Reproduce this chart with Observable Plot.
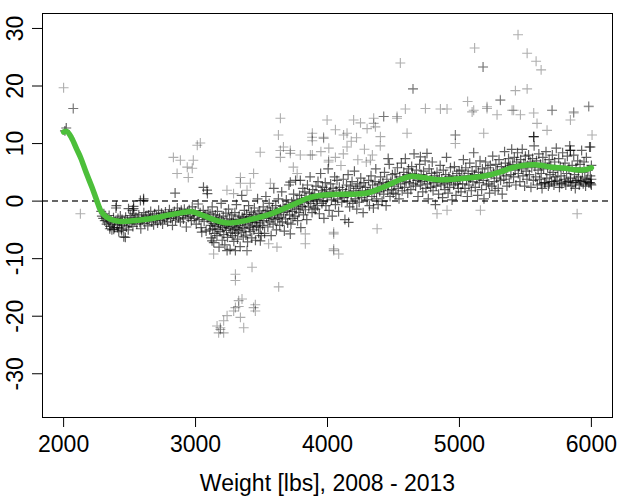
<!DOCTYPE html>
<html>
<head>
<meta charset="utf-8">
<script src="https://cdn.jsdelivr.net/npm/d3@7"></script>
<script src="https://cdn.jsdelivr.net/npm/@observablehq/plot@0.6"></script>
<style>
  html, body { margin: 0; padding: 0; background: #fff; }
</style>
</head>
<body>
<div id="chart"></div>
<script>
const xTicks = [2000, 3000, 4000, 5000, 6000];
const yTicks = [-30, -20, -10, 0, 10, 20, 30];
const xLabel = "Weight [lbs], 2008 - 2013";

// smoothed trend (weight, difference)
const smooth = [
  [2000,12.0],[2025,12.1],[2060,11.0],[2100,9.0],[2130,7.5],[2170,5.0],[2215,2.4],[2250,0.2],
  [2280,-1.6],[2320,-2.7],[2360,-3.2],[2420,-3.5],[2480,-3.5],[2580,-3.3],[2700,-2.9],[2800,-2.4],
  [2900,-2.0],[2960,-1.8],[3000,-2.0],[3080,-2.7],[3160,-3.4],[3240,-3.8],[3300,-3.7],[3380,-3.4],
  [3470,-2.9],[3560,-2.3],[3660,-1.4],[3750,-0.5],[3850,0.5],[3920,0.9],[4000,1.1],[4100,1.2],
  [4200,1.2],[4300,1.4],[4400,2.2],[4480,3.0],[4560,3.8],[4640,4.3],[4720,4.1],[4850,3.7],
  [4950,3.8],[5100,4.1],[5200,4.4],[5300,5.0],[5400,5.8],[5480,6.2],[5580,6.3],[5700,5.9],
  [5800,5.7],[5900,5.4],[5960,5.5],[6000,5.8]
];

// scattered points (weight, difference), by weight range
const light = [
  [2000,19.7],[2073,16.1],[2073,16.1],[2020,12.7],[2010,12.2],[2127,-2.2],
  [2285,-1.8],[2290,-2.6],[2300,-3.0],[2305,-2.2],[2312,-3.4],[2320,-2.8],[2326,-4.0],[2333,-3.1],
  [2340,-3.6],[2345,-2.5],[2352,-4.4],[2360,-3.3],[2366,-5.0],[2372,-3.8],[2378,-2.9],[2385,-4.6],
  [2390,-3.5],[2397,-1.2],[2400,-0.8],[2405,-4.1],[2412,-3.0],[2418,-5.3],[2424,-3.7],[2430,-2.6],
  [2437,-4.8],[2443,-3.2],[2450,-4.2],[2456,-6.2],[2462,-3.6],[2470,-2.8],[2476,-4.5],[2483,-3.3],
  [2490,-5.0],[2497,-3.9],[2582,0.1],[2530,-0.9],[2606,0.4],[2492,-1.3],[2522,-1.6],[2468,-6.3],
  [2380,-4.9],[2410,-4.6],[2440,-5.1],[2350,-4.8]
];
const lowMid = [
  [2505,-2.5],[2512,-3.8],[2518,-3.0],[2525,-4.4],[2532,-2.2],[2540,-3.4],[2548,-2.8],[2555,-4.0],
  [2562,-3.1],[2570,-2.4],[2578,-3.7],[2585,-4.8],[2592,-2.9],[2600,-3.3],[2608,-2.0],[2615,-3.9],
  [2622,-2.6],[2630,-3.2],[2638,-4.3],[2645,-2.4],[2652,-3.0],[2660,-1.8],[2668,-3.6],[2675,-2.7],
  [2682,-4.1],[2690,-2.2],[2698,-3.2],[2705,-2.6],[2712,-3.8],[2720,-1.6],[2728,-2.9],[2735,-3.4],
  [2742,-2.1],[2750,-4.0],[2758,-2.5],[2765,-3.1],[2772,-1.9],[2780,-2.8],[2788,-3.6],[2795,-2.3],
  [2802,-1.5],[2810,-3.0],[2818,-2.2],[2825,-4.2],[2832,-2.6],[2840,-1.8],[2848,-3.3],[2855,-2.4],
  [2862,-1.2],[2870,-2.9],[2878,-2.0],[2885,-3.6],[2892,-1.6],[2900,-2.5],[2908,-3.1],[2915,-1.4],
  [2922,-2.2],[2930,-4.5],[2938,-1.9],[2945,-2.8],
  [2952,-1.5],[2960,-2.6],[2968,-3.4],[2975,-1.0],[2982,-2.2],[2990,-3.0],[2998,-1.7],[3005,-4.0],
  [3012,-2.5],[3020,-0.5],[3027,-3.2],[3035,-2.0],[3042,-4.6],[3050,-2.8],[3058,-1.6],[3065,-3.5],
  [3072,-2.4],[3080,-5.2],[3088,-3.0],[3095,-1.9],
  [2832,7.6],[2885,7.1],[2937,5.9],[2975,5.7],[2945,4.1],[2983,7.1],[3013,9.7],[3036,10.1],
  [2860,4.8],[2845,1.4],[3060,2.4],[3090,1.3],[2606,0.1],[2530,-1.3]
];
const dip = [
  [3102,-3.1],[3106,-5.0],[3110,-2.2],[3114,-4.2],[3118,-6.4],[3122,-3.5],[3126,-1.0],[3130,-4.8],
  [3134,-2.8],[3138,-7.2],[3142,-3.9],[3146,-5.6],[3150,-2.4],[3154,-4.4],[3158,-3.2],[3162,-6.0],
  [3166,-1.8],[3170,-4.9],[3174,-3.6],[3178,-8.0],[3182,-2.9],[3186,-5.3],[3190,-4.1],[3194,-0.4],
  [3198,-3.4],[3202,-6.8],[3206,-4.6],[3210,-2.6],[3214,-5.8],[3218,-3.8],[3222,-7.6],[3226,-4.3],
  [3230,-2.1],[3234,-5.1],[3238,-3.6],[3242,-6.3],[3246,-4.0],[3250,-1.4],[3254,-4.7],[3258,-3.1],
  [3262,-8.4],[3266,-5.5],[3270,-3.9],[3274,-2.4],[3278,-6.0],[3282,-4.4],[3286,-3.3],[3290,-7.0],
  [3294,-4.9],[3298,-2.0],[3302,-5.6],[3306,-3.7],[3310,-0.6],[3314,-4.6],[3318,-6.6],[3322,-3.2],
  [3326,-5.1],[3330,-2.6],[3334,-4.2],[3338,-7.9],[3342,-3.5],[3346,-5.4],[3350,1.0],[3354,-2.8],
  [3358,-4.5],[3362,-6.2],[3366,-3.0],[3370,-1.6],[3374,-4.8],[3378,-3.4],[3382,-5.9],[3386,-2.3],
  [3390,-4.0],[3394,-7.1],[3398,-3.1],[3402,-0.8],[3406,-4.6],[3410,-2.7],[3414,-5.3],[3418,-3.6],
  [3422,-1.9],[3426,-6.4],[3430,-3.2],[3434,-4.3],[3438,-2.4],[3442,-5.0],[3446,-1.2],[3450,-3.7],
  [3454,-6.8],[3458,-2.8],[3462,-4.4],[3466,-3.3],[3470,0.4],[3474,-2.2],[3478,-5.6],[3482,-3.8],
  [3486,-1.7],[3490,-4.6],[3494,-2.9],[3498,-6.0],
  [3340,4.1],[3490,8.5],[3288,1.3],[3440,4.8],[3340,3.1],[3390,1.9],[3415,3.1],[3238,1.9],[3087,1.9],
  [3047,-5.4],[3390,-8.6],[3390,-8.6],[3302,-8.6],[3239,-8.6],[3137,-9.2],[3125,-6.9],[3491,-6.9],
  [3302,-12.7],[3302,-13.8],[3428,-11.5],[3630,-14.9],[3327,-17.3],[3302,-18.5],[3289,-19.1],
  [3440,-18.5],[3453,-19.1],[3453,-18.0],[3239,-19.9],[3213,-20.8],[3163,-21.7],[3188,-22.3],
  [3213,-22.9],[3175,-22.9],[3188,-22.0],[3365,-22.0],[3340,-20.2],[3352,-17.0],[3327,-18.3]
];
const rise = [
  [3503,-2.5],[3508,-4.2],[3513,-1.0],[3518,-3.4],[3523,-5.6],[3528,-2.1],[3533,0.8],[3538,-3.0],
  [3543,-1.6],[3548,-4.5],[3553,-2.6],[3558,-0.4],[3563,-3.6],[3568,-1.8],[3573,-6.0],[3578,-2.9],
  [3583,-1.2],[3588,-4.0],[3593,2.2],[3598,-2.2],[3603,-3.2],[3608,-0.8],[3613,-5.0],[3618,-1.9],
  [3623,-3.0],[3628,0.4],[3633,-2.4],[3638,-4.2],[3643,-1.4],[3648,-2.8],[3653,1.6],[3658,-3.6],
  [3663,-0.9],[3668,-2.0],[3673,-5.2],[3678,-1.2],[3683,-3.1],[3688,0.2],[3693,-1.7],[3698,-3.8],
  [3703,-0.6],[3708,2.8],[3713,-2.4],[3718,-1.0],[3723,-4.0],[3728,-0.2],[3733,-1.8],[3738,-3.0],
  [3743,1.2],[3748,-0.8],[3753,-2.6],[3758,3.6],[3763,-1.4],[3768,0.2],[3773,-3.4],[3778,-0.6],
  [3783,-2.0],[3788,1.0],[3793,-1.2],[3798,-4.6],[3803,0.4],[3808,-0.9],[3813,2.2],[3818,-2.4],
  [3823,-0.2],[3828,1.6],[3833,-1.5],[3838,0.6],[3843,-3.2],[3848,2.8],[3853,0.0],[3858,-1.0],
  [3863,1.4],[3868,4.2],[3873,-0.4],[3878,0.8],[3883,-2.0],[3888,2.0],[3893,0.3],[3898,-1.2],
  [3643,14.4],[3628,11.5],[3666,9.4],[3643,7.6],[3718,8.3],[3741,5.9],[3794,3.6],[3885,11.8],
  [3885,10.5],[3885,8.0],[3883,11.1],[3718,8.8],[3794,8.0],[3870,8.0],[3567,3.1],[3643,8.8],
  [3770,4.8],[3718,3.3],[3832,-5.7],[3832,-7.4],[3718,-5.7],[3617,-8.0],[3554,-7.4]
];
const plateau = [
  [3903,1.2],[3908,-1.4],[3913,2.6],[3918,0.2],[3923,-0.8],[3928,3.4],[3933,1.0],[3938,-2.2],
  [3943,0.6],[3948,4.8],[3953,1.8],[3958,-0.4],[3963,2.4],[3968,0.0],[3973,-3.0],[3978,1.4],
  [3983,3.2],[3988,-0.8],[3993,2.0],[3998,0.6],[4005,5.6],[4012,-1.6],[4018,1.6],[4024,3.0],
  [4030,0.2],[4036,-2.6],[4042,2.2],[4048,0.8],[4054,4.2],[4060,-0.6],[4066,1.8],[4072,3.6],
  [4078,0.4],[4084,-1.8],[4090,2.4],[4096,1.0],[4102,6.2],[4108,-0.2],[4114,2.0],[4120,3.8],
  [4126,0.6],[4132,-3.2],[4138,1.4],[4144,2.8],[4150,0.0],[4156,4.6],[4162,1.6],[4168,-1.0],
  [4174,2.6],[4180,0.8],[4186,3.4],[4192,-0.4],[4198,1.8],[4204,5.2],[4210,0.4],[4216,2.2],
  [4222,-1.4],[4228,3.0],[4234,1.2],[4240,-0.2],[4246,2.6],[4252,4.0],[4258,0.6],[4264,1.8],
  [4270,-2.0],[4276,3.2],[4282,1.0],[4288,2.4],[4294,6.8],[4300,0.2],[4306,1.6],[4312,3.6],
  [4318,-0.8],[4324,2.0],[4330,4.4],[4336,0.8],[4342,2.8],[4348,-1.2],[4354,1.4],[4360,3.4],
  [4366,5.6],[4372,0.4],[4378,2.2],[4384,-0.6],[4390,3.0],[4396,1.6],[4402,4.2],[4408,2.4],
  [4414,0.0],[4420,3.2],[4426,1.2],[4432,5.0],[4438,2.6],[4444,-0.8],[4450,3.8],[4456,1.8],
  [4462,2.8],[4468,6.4],[4474,0.8],[4480,3.4],[4486,2.0],[4492,4.6],[4498,1.4],
  [3950,8.6],[4010,9.2],[4060,7.6],[4120,8.2],[4180,10.4],[4230,7.2],[4280,9.0],[4340,8.0],
  [4400,9.6],[4460,7.4],[4060,12.4],[4220,11.0],[4300,12.6],[4250,13.6],
  [3997,14.1],[4198,14.1],[4350,13.5],[4363,12.9],[4401,11.2],[3971,10.9],[4148,9.4],[4009,7.1],
  [4148,11.8],[4325,7.1],[4426,14.7],[4527,14.7],[3970,11.1],[4122,11.5],[4008,6.8],
  [4350,14.4],[4426,14.7],[4527,14.4],[4552,24.0],[4648,19.5],[4648,19.5],[4590,16.0],
  [4047,-5.4],[4047,-8.6],[4085,-9.2],[4160,-3.7],[4376,-4.8],[4047,-5.7],[4047,-8.3]
];
const upper = [
  [4505,2.6],[4512,4.8],[4518,1.2],[4524,3.6],[4530,5.8],[4536,2.2],[4542,0.4],[4548,4.2],
  [4554,3.0],[4560,6.6],[4566,1.8],[4572,3.8],[4578,5.0],[4584,2.4],[4590,7.4],[4596,3.4],
  [4602,4.6],[4608,1.4],[4614,5.6],[4620,3.2],[4626,4.2],[4632,2.0],[4638,6.0],[4644,4.8],
  [4650,3.0],[4656,8.2],[4662,4.4],[4668,2.6],[4674,5.4],[4680,3.6],[4686,0.8],[4692,4.0],
  [4698,6.4],[4704,2.8],[4710,4.6],[4716,3.4],[4722,1.6],[4728,5.2],[4734,3.8],[4740,7.0],
  [4746,2.2],[4752,4.2],[4758,3.0],[4764,0.4],[4770,5.6],[4776,3.6],[4782,2.4],[4788,4.8],
  [4794,6.8],[4800,1.8],[4806,3.2],[4812,4.4],[4818,-0.6],[4824,2.6],[4830,5.0],[4836,3.4],
  [4842,1.2],[4848,4.0],[4854,6.2],[4860,2.8],[4866,3.8],[4872,0.6],[4878,5.4],[4884,3.0],
  [4890,2.0],[4896,4.6],[4902,7.6],[4908,3.2],[4914,1.4],[4920,4.2],[4926,2.4],[4932,5.8],
  [4938,3.6],[4944,0.2],[4950,4.4],[4956,2.8],[4962,6.0],[4968,3.4],[4974,1.0],[4980,4.8],
  [4986,3.0],[4992,2.2],[4998,5.2],
  [5005,3.8],[5012,1.6],[5018,5.4],[5024,3.0],[5030,7.2],[5036,4.4],[5042,2.2],[5048,5.8],
  [5054,3.6],[5060,0.8],[5066,4.8],[5072,2.8],[5078,6.6],[5084,4.0],[5090,1.8],[5096,5.2],
  [5102,3.4],[5108,8.4],[5114,4.6],[5120,2.4],[5126,6.0],[5132,3.8],[5138,1.0],[5144,5.0],
  [5150,3.2],[5156,7.0],[5162,4.4],[5168,2.0],[5174,5.6],[5180,3.6],[5186,0.4],[5192,4.8],
  [5198,6.8],[5204,2.8],[5210,4.2],[5216,5.8],[5222,3.0],[5228,1.4],[5234,6.2],[5240,4.6],
  [5246,2.6],[5252,7.8],[5258,5.0],[5264,3.4],[5270,1.8],[5276,6.4],[5282,4.0],[5288,5.4],
  [5294,2.2],[5300,7.2],[5306,4.8],[5312,3.6],[5318,6.0],[5324,1.2],[5330,5.2],[5336,3.8],
  [5342,8.6],[5348,6.6],[5354,4.4],[5360,2.6],[5366,5.8],[5372,7.4],[5378,3.2],[5384,6.2],
  [5390,4.6],[5396,9.0],
  [4603,11.8],[4704,7.7],[4754,8.3],[4969,11.5],[4969,11.5],[4969,10.0],[5184,11.8],[5310,17.6],
  [5209,16.4],[5108,15.8],[5285,15.0],[5411,15.8],[5159,-1.6],[4906,-1.6],[4830,-2.2],
  [5444,28.9],[5115,26.6],[5513,25.7],[5581,24.3],[5619,22.8],[5179,23.3],[5179,23.3],[5424,19.2],
  [5513,19.5],[5062,17.3],[5310,17.5],[4742,16.1],[4856,16.0],[4906,16.0],[5096,15.5],[5209,16.1],
  [5399,15.8]
];
const heavy = [
  [5404,6.4],[5410,4.2],[5416,7.6],[5422,5.4],[5428,2.8],[5434,6.8],[5440,8.4],[5446,4.8],
  [5452,6.0],[5458,3.4],[5464,7.2],[5470,5.6],[5476,9.0],[5482,4.4],[5488,6.6],[5494,2.6],
  [5500,7.8],[5506,5.2],[5512,3.8],[5518,6.2],[5524,8.0],[5530,4.6],[5536,6.8],[5542,2.4],
  [5548,5.8],[5554,7.4],[5560,3.6],[5566,9.6],[5572,6.0],[5578,4.2],[5584,7.0],[5590,2.8],
  [5596,5.4],[5602,8.2],[5608,3.8],[5614,6.4],[5620,4.8],[5626,2.2],[5632,7.6],[5638,5.6],
  [5644,3.2],[5650,6.6],[5656,8.6],[5662,4.0],[5668,5.8],[5674,2.6],[5680,7.2],[5686,4.6],
  [5692,6.2],[5698,3.4],[5704,8.0],[5710,5.0],[5716,2.8],[5722,6.8],[5728,4.2],[5734,9.2],
  [5740,3.6],[5746,5.4],[5752,7.4],[5758,2.4],[5764,6.0],[5770,4.4],[5776,3.0],[5782,8.4],
  [5788,5.8],[5794,3.8],[5800,6.6],[5806,2.8],[5812,4.8],[5818,7.8],[5824,3.4],[5830,5.6],
  [5836,9.6],[5842,4.0],[5848,2.6],[5854,6.2],[5860,3.2],[5866,8.0],[5872,4.6],[5878,2.2],
  [5884,5.8],[5890,3.6],[5896,7.0],[5902,4.2],[5908,2.8],[5914,6.4],[5920,3.4],[5926,8.8],
  [5932,5.0],[5938,3.0],[5944,6.8],[5950,4.0],[5956,2.6],[5962,7.6],[5968,3.8],[5974,5.4],
  [5980,3.2],[5986,9.4],[5992,4.4],[5996,3.0],[6000,6.2],
  [5620,3.0],[5650,3.2],[5680,3.0],[5720,3.4],[5760,3.1],[5800,3.3],[5840,3.5],[5880,3.2],
  [5920,3.6],[5960,3.4],[6000,3.8],[5990,3.2],[6000,2.8],
  [5462,15.0],[5563,15.3],[5588,13.5],[5563,11.2],[5563,11.2],[5664,12.3],[5702,15.8],[5841,14.1],
  [5866,15.3],[5980,16.4],[5993,9.4],[6005,11.5],[5841,8.8],[5841,8.8],[5892,-2.2],
  [5980,16.5],[5866,15.5],[5702,15.8]
];

const trend = smooth.map(([w, d]) => ({w, d}));
// styling only: points near the trend are drawn darker (denser in the original)
const trendAt = (w) => {
  const i = Math.max(1, Math.min(smooth.length - 1, d3.bisector(p => p[0]).left(smooth, w)));
  const [w0, d0] = smooth[i - 1], [w1, d1] = smooth[i];
  return d0 + (d1 - d0) * (w - w0) / (w1 - w0);
};
const points = [...light, ...lowMid, ...dip, ...rise, ...plateau, ...upper, ...heavy]
  .map(([w, d]) => ({w, d, near: Math.abs(d - trendAt(w)) < 5}));

const chart = Plot.plot({
  width: 620,
  height: 498,
  marginLeft: 42,
  marginRight: 8,
  marginTop: 13,
  marginBottom: 81,
  style: {fontFamily: "'Liberation Sans', Arial, Helvetica, sans-serif", fontSize: "23px", background: "#fff", color: "#000"},
  x: {domain: [1840, 6160]},
  y: {domain: [-37.6, 32.6]},
  marks: [
    Plot.ruleY([0], {stroke: "#666", strokeWidth: 2, strokeDasharray: "6,4"}),
    Plot.dot(points.filter(p => !p.near), {x: "w", y: "d", symbol: "plus", r: 3.3, stroke: "#000", strokeOpacity: 0.32, strokeWidth: 1.1}),
    Plot.dot(points.filter(p => p.near), {x: "w", y: "d", symbol: "plus", r: 3.3, stroke: "#000", strokeOpacity: 0.62, strokeWidth: 1.2}),
    Plot.line(trend, {x: "w", y: "d", stroke: "#4cbf3a", strokeWidth: 5.5, curve: "catmull-rom", strokeLinecap: "round"}),
    Plot.frame({stroke: "#000", strokeWidth: 1}),
    Plot.axisX(xTicks, {tickSize: 10, tickPadding: 8, tickFormat: d => String(d), label: null, fontSize: 23}),
    Plot.axisY(yTicks, {tickSize: 10, tickPadding: 10, tickRotate: -90, tickFormat: d => String(d), label: null, fontSize: 23}),
    Plot.text([xLabel], {frameAnchor: "bottom", dy: 66, lineAnchor: "middle", fontSize: 23})
  ]
});
document.getElementById("chart").appendChild(chart);
</script>
</body>
</html>
